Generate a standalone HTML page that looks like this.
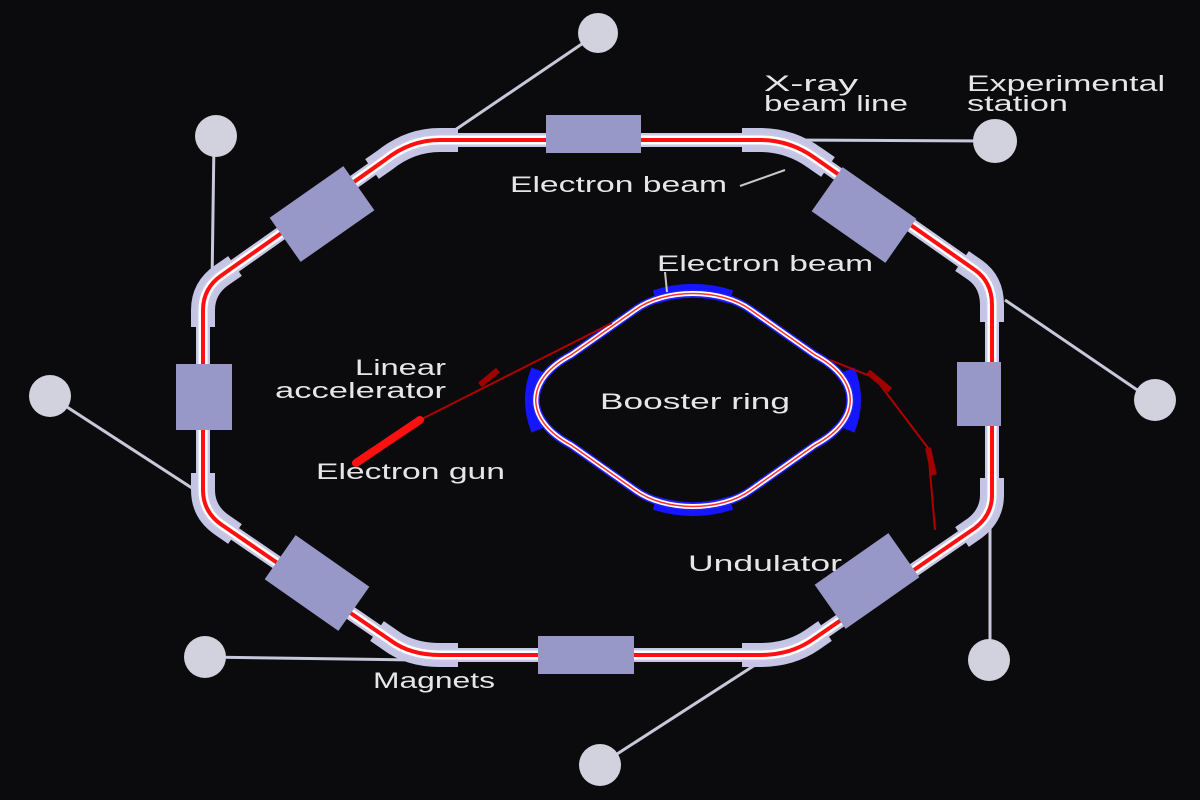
<!DOCTYPE html>
<html><head><meta charset="utf-8"><style>
html,body{margin:0;padding:0;background:#0b0b0d;}
svg{display:block}
text{font-family:"Liberation Sans",sans-serif;font-size:22px;fill:#e6e6e6}
</style></head><body>
<svg width="1200" height="800" viewBox="0 0 1200 800">
<defs>
<path id="ring" d="M440,140 L760,140 Q790,140 815,158 L975,270 Q992,282 992,305 L992,495 Q992,515 975,528 L812,640 Q790,655 760,655 L440,655 Q410,655 390,640 L222,525 Q203,512 203,490 L203,310 Q203,288 222,275 L385,160 Q410,140 440,140 Z"/>
<path id="boo" d="M635,310 C665,288 721,288 751,310 L815,355 C862,380 862,420 815,445 L751,490 C721,512 665,512 635,490 L571,445 C524,420 524,380 571,355 Z"/>
</defs>
<rect width="1200" height="800" fill="#0b0b0d"/>
<!-- beamlines -->
<g stroke="#c8c8dc" stroke-width="3" fill="none">
<line x1="455" y1="130" x2="598" y2="33"/>
<line x1="214" y1="140" x2="212" y2="285"/>
<line x1="785" y1="140" x2="990" y2="141"/>
<line x1="1005" y1="300" x2="1152" y2="400"/>
<line x1="50" y1="396" x2="195" y2="490"/>
<line x1="205" y1="657" x2="415" y2="660"/>
<line x1="990" y1="510" x2="990" y2="660"/>
<line x1="600" y1="765" x2="755" y2="665"/>
</g>
<g fill="#d2d2de">
<circle cx="598" cy="33" r="20"/>
<circle cx="216" cy="136" r="21"/>
<circle cx="995" cy="141" r="22"/>
<circle cx="1155" cy="400" r="21"/>
<circle cx="50" cy="396" r="21"/>
<circle cx="205" cy="657" r="21"/>
<circle cx="989" cy="660" r="21"/>
<circle cx="600" cy="765" r="21"/>
</g>
<!-- corner magnets -->
<g fill="none" stroke="#c4c4e4" stroke-width="24">
<path d="M372,169 L385,160 Q410,140 440,140 L458,140"/>
<path d="M742,140 L760,140 Q790,140 815,158 L828,167"/>
<path d="M962,261 L975,270 Q992,282 992,305 L992,322"/>
<path d="M992,478 L992,495 Q992,515 975,528 L962,537"/>
<path d="M825,631 L812,640 Q790,655 760,655 L742,655"/>
<path d="M458,655 L440,655 Q410,655 390,640 L377,631"/>
<path d="M235,534 L222,525 Q203,512 203,490 L203,473"/>
<path d="M203,327 L203,310 Q203,288 222,275 L235,266"/>
</g>
<!-- ring -->
<g fill="none" stroke-linejoin="round">
<use href="#ring" stroke="#c8c8e6" stroke-width="14"/>
<use href="#ring" stroke="#ffffff" stroke-width="9"/>
<use href="#ring" stroke="#ff1010" stroke-width="4"/>
</g>
<!-- boxes -->
<g fill="#9898c8">
<rect x="546" y="115" width="95" height="38"/>
<rect x="538" y="636" width="96" height="38"/>
<rect x="176" y="364" width="56" height="66"/>
<rect x="957" y="362" width="44" height="64"/>
<rect x="-45" y="-27" width="90" height="54" transform="translate(322,214) rotate(-35)"/>
<rect x="-45" y="-27" width="90" height="54" transform="translate(864,215) rotate(35)"/>
<rect x="-45" y="-27" width="90" height="54" transform="translate(317,583) rotate(35)"/>
<rect x="-45" y="-27" width="90" height="54" transform="translate(867,581) rotate(-35)"/>
</g>
<!-- booster -->
<g fill="none" stroke="#1515ff" stroke-width="14">
<path d="M655,297 C680,289 706,289 731,297"/>
<path d="M655,503 C680,511 706,511 731,503"/>
<path d="M538,370 C530,390 530,410 538,430"/>
<path d="M848,370 C856,390 856,410 848,430"/>
</g>
<g fill="none">
<use href="#boo" stroke="#2020ff" stroke-width="8"/>
<use href="#boo" stroke="#ffffff" stroke-width="5"/>
<use href="#boo" stroke="#ff3030" stroke-width="1.5"/>
</g>
<!-- linac and transfer -->
<g stroke="#b00000" fill="none" stroke-width="2">
<line x1="410" y1="425" x2="612" y2="323"/>
<path d="M830,360 L875,378 L928,448 L935,530"/>
</g>
<line x1="356" y1="463" x2="420" y2="420" stroke="#ff1010" stroke-width="8" stroke-linecap="round"/>
<line x1="480" y1="385" x2="498" y2="370" stroke="#a00000" stroke-width="6"/>
<line x1="868" y1="372" x2="890" y2="390" stroke="#a00000" stroke-width="6"/>
<line x1="928" y1="448" x2="934" y2="475" stroke="#a00000" stroke-width="6"/>
<!-- pointers -->
<line x1="740" y1="186" x2="785" y2="170" stroke="#c8c8c8" stroke-width="2"/>
<line x1="665" y1="272" x2="667" y2="292" stroke="#c8c8c8" stroke-width="2"/>
<!-- labels -->
<g lengthAdjust="spacingAndGlyphs">
<text x="764" y="91" textLength="94" lengthAdjust="spacingAndGlyphs">X-ray</text>
<text x="764" y="111" textLength="144" lengthAdjust="spacingAndGlyphs">beam line</text>
<text x="967" y="91" textLength="198" lengthAdjust="spacingAndGlyphs">Experimental</text>
<text x="967" y="111" textLength="101" lengthAdjust="spacingAndGlyphs">station</text>
<text x="510" y="192" textLength="217" lengthAdjust="spacingAndGlyphs">Electron beam</text>
<text x="657" y="271" textLength="216" lengthAdjust="spacingAndGlyphs">Electron beam</text>
<text x="355" y="375" textLength="91" lengthAdjust="spacingAndGlyphs">Linear</text>
<text x="275" y="398" textLength="171" lengthAdjust="spacingAndGlyphs">accelerator</text>
<text x="600" y="409" textLength="190" lengthAdjust="spacingAndGlyphs">Booster ring</text>
<text x="316" y="479" textLength="189" lengthAdjust="spacingAndGlyphs">Electron gun</text>
<text x="688" y="571" textLength="154" lengthAdjust="spacingAndGlyphs">Undulator</text>
<text x="373" y="688" textLength="122" lengthAdjust="spacingAndGlyphs">Magnets</text>
</g>
</svg>
</body></html>
